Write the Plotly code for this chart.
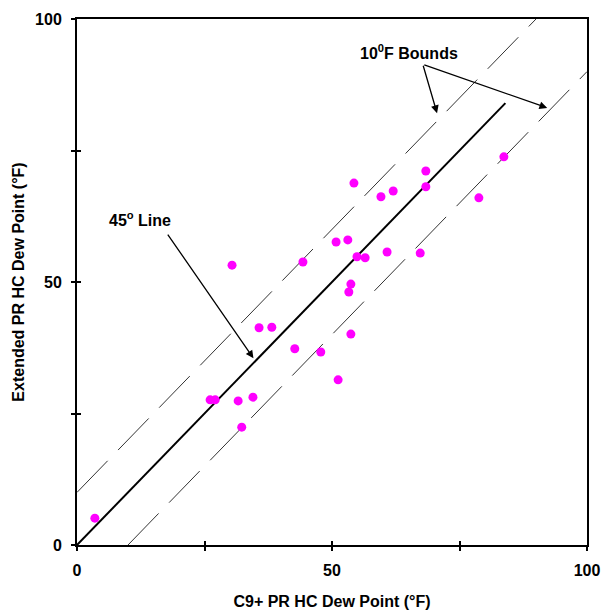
import plotly.graph_objects as go

# Data points (C9+ PR HC dew point vs Extended PR HC dew point, °F)
c9_dew = [83.7, 68.4, 68.4, 54.3, 62.0, 59.6, 78.8, 50.8, 53.1, 44.3, 54.9, 56.5,
          60.8, 67.3, 53.7, 53.3, 53.7, 42.7, 47.8, 51.2, 30.4, 35.7, 38.2, 26.1,
          27.1, 31.6, 34.5, 32.3, 3.5]
ext_dew = [73.8, 71.1, 68.1, 68.8, 67.3, 66.2, 66.0, 57.6, 58.0, 53.8, 54.8, 54.6,
           55.7, 55.5, 49.6, 48.1, 40.1, 37.3, 36.7, 31.4, 53.2, 41.3, 41.4, 27.6,
           27.6, 27.4, 28.1, 22.4, 5.1]

line45_x = [0, 84]
line45_y = [0, 84]
upper_x = [0, 90]
upper_y = [10, 100]
lower_x = [10, 100]
lower_y = [0, 90]

label_ticks = [0, 50, 100]
minor_ticks = [25, 75]
all_ticks = [0, 25, 50, 75, 100]

FONT = "Liberation Sans, Arial, sans-serif"
FS = 16

fig = go.Figure()
fig.add_trace(go.Scatter(x=upper_x, y=upper_y, mode="lines",
                         line=dict(color="#333333", width=1, dash="44px,15px"),
                         hoverinfo="skip"))
fig.add_trace(go.Scatter(x=lower_x, y=lower_y, mode="lines",
                         line=dict(color="#333333", width=1, dash="44px,15px"),
                         hoverinfo="skip"))
fig.add_trace(go.Scatter(x=line45_x, y=line45_y, mode="lines",
                         line=dict(color="black", width=2), hoverinfo="skip"))
fig.add_trace(go.Scatter(x=c9_dew, y=ext_dew, mode="markers",
                         marker=dict(color="#FF00FF", size=9, line=dict(width=0))))

tfont = dict(family=FONT, size=FS, color="black", weight="bold")
axis_common = dict(range=[0, 100], tickmode="array", tickvals=label_ticks,
                   showgrid=False, zeroline=False, showline=True, linecolor="black",
                   linewidth=2, mirror=True, ticks="outside", ticklen=4,
                   tickwidth=2, tickcolor="black", automargin=False,
                   minor=dict(tickmode="array", tickvals=minor_ticks, ticks="outside",
                              ticklen=4, tickwidth=2, tickcolor="black", showgrid=False),
                   tickfont=tfont)

fig.update_layout(
    width=601, height=610,
    margin=dict(l=77, r=14, t=19, b=65),
    paper_bgcolor="white", plot_bgcolor="white",
    showlegend=False,
    font=dict(family=FONT, color="black"),
    xaxis=dict(**axis_common, ticklabelstandoff=6,
               title=dict(text="C9+ PR HC Dew Point (°F)", standoff=20, font=tfont)),
    yaxis=dict(**axis_common, ticklabelstandoff=6,
               title=dict(text="Extended PR HC Dew Point (°F)", standoff=6, font=tfont)),
    xaxis2=dict(overlaying="x", matches="x", range=[0, 100], tickmode="array",
                tickvals=all_ticks, showticklabels=False, ticks="inside", ticklen=4,
                tickwidth=2, tickcolor="black", showgrid=False, zeroline=False,
                showline=False, automargin=False),
    yaxis2=dict(overlaying="y", matches="y", range=[0, 100], tickmode="array",
                tickvals=all_ticks, showticklabels=False, ticks="inside", ticklen=4,
                tickwidth=2, tickcolor="black", showgrid=False, zeroline=False,
                showline=False, automargin=False),
)

# invisible trace to activate overlay axes
fig.add_trace(go.Scatter(x=[0], y=[0], xaxis="x2", yaxis="y2", mode="markers",
                         marker=dict(opacity=0), hoverinfo="skip"))

ann_font = dict(family=FONT, size=FS, color="black", weight="bold")
fig.add_annotation(x=12.4, y=62.0, text="45<sup>o</sup> Line", showarrow=False,
                   font=ann_font)
fig.add_annotation(x=65.1, y=93.7, text="10<sup>0</sup>F Bounds", showarrow=False,
                   font=ann_font)
arrows = [((17.6, 59.3), (34.6, 35.5)),
          ((67.8, 91.4), (70.6, 82.1)),
          ((67.8, 91.4), (92.2, 83.1))]
for (tx, ty), (hx, hy) in arrows:
    fig.add_annotation(x=hx, y=hy, ax=tx, ay=ty, xref="x", yref="y",
                       axref="x", ayref="y", text="", showarrow=True,
                       arrowhead=2, arrowsize=1.2, arrowwidth=1.3, arrowcolor="black")

# remove the browser's default 8px body margin so the figure fills the window
fig.write_html("out.html",
               config={"displayModeBar": False},
               post_script="document.body.style.margin='0';"
                           "document.body.style.overflow='hidden';")
